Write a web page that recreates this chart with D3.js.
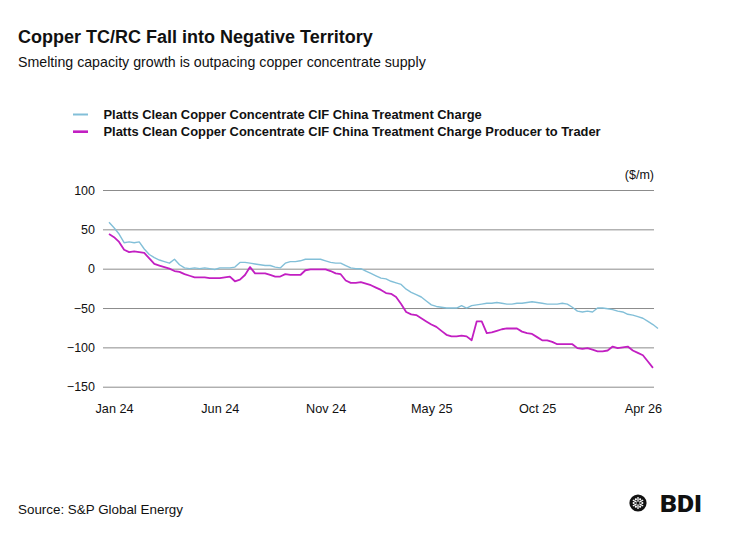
<!DOCTYPE html>
<html>
<head>
<meta charset="utf-8">
<script src="https://cdn.jsdelivr.net/npm/d3@7"></script>
<style>
	body { margin: 0; background: #fff; }
	text { font-family: "Liberation Sans", Arial, Helvetica, sans-serif; fill: #111; }
</style>
</head>
<body>
<script>
// weekly assessments, $/m
var tcValues = [
	59, 52, 44, 33, 34, 33, 34, 25, 18, 14,
	11, 9, 7, 12, 5, 1, 0, 1, 0, 1,
	0, -1, 1, 1, 1, 2, 8, 8, 7, 6,
	5, 4, 4, 2, 1, 7, 9, 9, 10, 12,
	12, 12, 12, 10, 8, 7, 7, 4, 1, 0,
	0, -3, -6, -9, -12, -13, -16, -18, -20, -26,
	-30, -33, -36, -41, -46, -48, -49, -50, -50, -50,
	-47, -50, -47, -46, -45, -44, -44, -43, -44, -45,
	-45, -44, -44, -43, -42, -43, -44, -45, -45, -45,
	-44, -45, -49, -54, -55, -54, -55, -50, -50, -51,
	-52, -54, -55, -58, -59, -61, -63, -67, -71, -76
];

var ptValues = [
	44, 40, 34, 24, 21, 22, 21, 20, 13, 6,
	4, 2, 0, -3, -4, -7, -9, -11, -11, -11,
	-12, -12, -12, -11, -10, -16, -14, -8, 2, -6,
	-6, -6, -8, -10, -10, -7, -8, -8, -8, -2,
	-1, -1, -1, -1, -3, -6, -7, -15, -18, -18,
	-17, -19, -21, -24, -27, -31, -32, -36, -45, -55,
	-58, -59, -63, -67, -71, -74, -79, -84, -86, -86,
	-85, -86, -91, -67, -67, -82, -81, -79, -77, -76,
	-76, -76, -80, -82, -83, -87, -91, -91, -93, -96,
	-96, -96, -96, -101, -102, -101, -103, -105, -105, -104,
	-99, -101, -100, -99, -104, -107, -110, -118, -126
];

var xTickIndex = [1, 22, 43, 64, 85, 106];
var xTickLabels = ["Jan 24", "Jun 24", "Nov 24", "May 25", "Oct 25", "Apr 26"];
var yTicks = [100, 50, 0, -50, -100, -150];

var seriesNames = [
	"Platts Clean Copper Concentrate CIF China Treatment Charge",
	"Platts Clean Copper Concentrate CIF China Treatment Charge Producer to Trader"
];
var seriesColors = ["#82bfd8", "#c21fc2"];

var width = 735,
	height = 537;

var svg = d3.select("body").append("svg")
	.attr("width", width)
	.attr("height", height);

// titles
svg.append("text")
	.attr("x", 18)
	.attr("y", 43)
	.attr("font-size", 18)
	.attr("font-weight", "bold")
	.text("Copper TC/RC Fall into Negative Territory");

svg.append("text")
	.attr("x", 18)
	.attr("y", 66.5)
	.attr("font-size", 14.2)
	.text("Smelting capacity growth is outpacing copper concentrate supply");

// legend
var legend = svg.selectAll(".legend")
	.data(seriesNames)
	.enter()
	.append("g")
		.attr("class", "legend")
		.attr("transform", function(d, i){
			return "translate(0," + (114.5 + i * 17.2) + ")";
		});

legend.append("line")
	.attr("x1", 73)
	.attr("x2", 88)
	.attr("stroke", function(d, i){ return seriesColors[i]; })
	.attr("stroke-width", function(d, i){ return i == 0 ? 2 : 2.6; });

legend.append("text")
	.attr("x", 103.5)
	.attr("y", 4.5)
	.attr("font-size", 12.9)
	.attr("font-weight", "bold")
	.text(function(d){ return d; });

// scales
var xScale = d3.scaleLinear()
	.domain([0, tcValues.length - 1])
	.range([109, 658]);

var yScale = d3.scaleLinear()
	.domain([-150, 100])
	.range([386.7, 190]);

// y grid + labels
var yAxis = svg.append("g")
	.attr("transform", "translate(103,0)")
	.call(d3.axisLeft(yScale)
		.tickValues(yTicks)
		.tickSize(-551)
		.tickPadding(8)
		.tickFormat(d3.format("d")));

yAxis.select(".domain").remove();
yAxis.selectAll(".tick line")
	.attr("stroke", "#8c8c8c")
	.attr("stroke-width", 1);
yAxis.selectAll(".tick text")
	.attr("font-size", 12.5)
	.attr("font-family", "Liberation Sans, Arial, sans-serif")
	.attr("fill", "#111");

// x labels
var xAxis = svg.append("g")
	.attr("transform", "translate(0,386.7)")
	.call(d3.axisBottom(xScale)
		.tickValues(xTickIndex)
		.tickSize(0)
		.tickPadding(17)
		.tickFormat(function(d, i){ return xTickLabels[i]; }));

xAxis.select(".domain").remove();
xAxis.selectAll(".tick text")
	.attr("font-size", 12.7)
	.attr("font-family", "Liberation Sans, Arial, sans-serif")
	.attr("fill", "#111");

svg.append("text")
	.attr("x", 654)
	.attr("y", 179)
	.attr("text-anchor", "end")
	.attr("font-size", 12.5)
	.text("($/m)");

// lines
var line = d3.line()
	.x(function(d, i){ return xScale(i); })
	.y(function(d){ return yScale(d); });

svg.append("path")
	.datum(tcValues)
	.attr("fill", "none")
	.attr("stroke", seriesColors[0])
	.attr("stroke-width", 1.4)
	.attr("stroke-linejoin", "round")
	.attr("d", line);

svg.append("path")
	.datum(ptValues)
	.attr("fill", "none")
	.attr("stroke", seriesColors[1])
	.attr("stroke-width", 1.8)
	.attr("stroke-linejoin", "round")
	.attr("d", line);

// source
svg.append("text")
	.attr("x", 18)
	.attr("y", 514)
	.attr("font-size", 13.4)
	.text("Source: S&P Global Energy");

// BDI logo
var logo = svg.append("g")
	.attr("transform", "translate(638,503)");

logo.append("circle")
	.attr("r", 8.6)
	.attr("fill", "#111");

logo.selectAll(".arm")
	.data(d3.range(6))
	.enter()
	.append("line")
		.attr("class", "arm")
		.attr("x1", 0)
		.attr("y1", 0)
		.attr("x2", function(d){ return 6 * Math.cos(d * Math.PI / 3 - Math.PI / 2); })
		.attr("y2", function(d){ return 6 * Math.sin(d * Math.PI / 3 - Math.PI / 2); })
		.attr("stroke", "#fff")
		.attr("stroke-width", 1.3);

logo.selectAll(".dot")
	.data(d3.range(6))
	.enter()
	.append("circle")
		.attr("class", "dot")
		.attr("cx", function(d){ return 4.3 * Math.cos(d * Math.PI / 3); })
		.attr("cy", function(d){ return 4.3 * Math.sin(d * Math.PI / 3); })
		.attr("r", 1.1)
		.attr("fill", "#fff");

logo.append("circle")
	.attr("r", 1.6)
	.attr("fill", "#111");

svg.append("text")
	.attr("x", 660)
	.attr("y", 512)
	.attr("font-size", 24.5)
	.attr("font-weight", "900")
	.attr("textLength", 42)
	.attr("lengthAdjust", "spacingAndGlyphs")
	.style("font-family", "Roboto, Liberation Sans, Arial, sans-serif")
	.text("BDI");
</script>
</body>
</html>
